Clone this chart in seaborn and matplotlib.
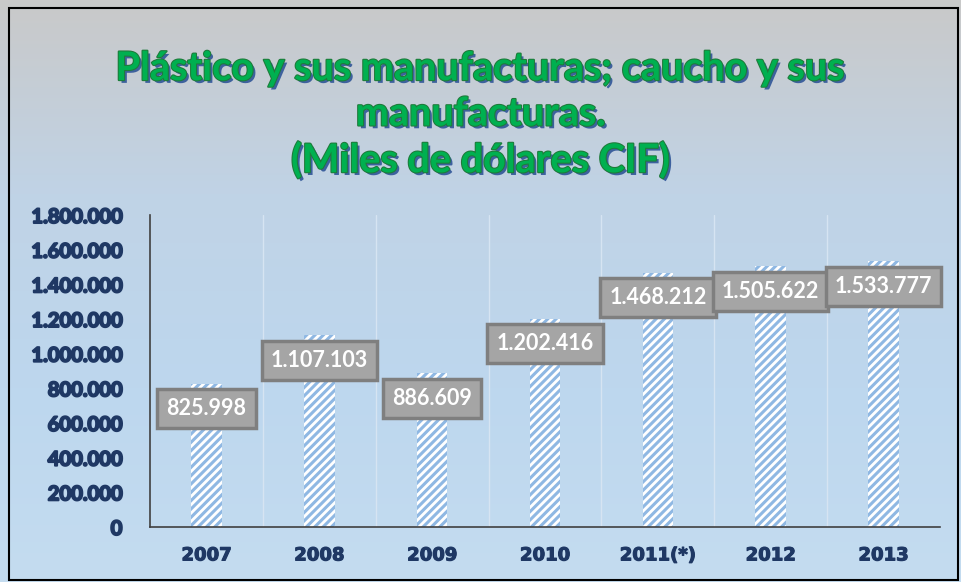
import numpy as np
import pandas as pd
import matplotlib
matplotlib.use('Agg')
import matplotlib.pyplot as plt
import matplotlib.patheffects as pe
from matplotlib.colors import LinearSegmentedColormap
import seaborn as sns

#%% Datos

anios = ['2007', '2008', '2009', '2010', '2011(*)', '2012', '2013']
valores = [825998, 1107103, 886609, 1202416, 1468212, 1505622, 1533777]
etiquetas = ['825.998', '1.107.103', '886.609', '1.202.416', '1.468.212', '1.505.622', '1.533.777']
ticks_y = [0, 200000, 400000, 600000, 800000, 1000000, 1200000, 1400000, 1600000, 1800000]

df = pd.DataFrame({'anio': anios, 'valor': valores})

titulo = 'Plástico y sus manufacturas; caucho y sus\nmanufacturas.\n(Miles de dólares CIF)'

#%% Gráfico

sns.set_theme(style='white')
plt.rcParams['font.family'] = ['Lato', 'DejaVu Sans']
plt.rcParams['hatch.linewidth'] = 2.2

fig = plt.figure(figsize=(9.62, 5.82), dpi=100)

# fondo degradado gris -> celeste
bg = fig.add_axes([0, 0, 1, 1], zorder=0)
cmap = LinearSegmentedColormap.from_list('fondo', ['#c9c9c9', '#c0d3e6', '#bdd7ee', '#c4dcf0'])
bg.imshow(np.linspace(0, 1, 256).reshape(-1, 1), aspect='auto', cmap=cmap, extent=[0, 1, 0, 1])
bg.set_xlim(0, 1)
bg.set_ylim(0, 1)
bg.axis('off')
bg.add_patch(plt.Rectangle((0.009, 0.003), 0.987, 0.984, fill=False, edgecolor='black',
                           linewidth=1.5, transform=bg.transAxes))

ax = fig.add_axes([0.156, 0.0945, 0.821, 0.536], zorder=1)
ax.set_facecolor('none')

sns.barplot(data=df, x='anio', y='valor', ax=ax, width=0.27, color='white', linewidth=0)
for p in ax.patches:
    p.set_facecolor('white')
    p.set_edgecolor('#8fb8e3')
    p.set_hatch('////')
    p.set_linewidth(0)

ax.set_ylim(0, 1800000)
ax.set_xlim(-0.5, len(anios) - 0.5)
ax.set_yticks(ticks_y)
ax.set_yticklabels(['{:,}'.format(v).replace(',', '.') for v in ticks_y])
ax.set_xlabel('')
ax.set_ylabel('')

for x in np.arange(0.5, len(anios) - 0.5, 1):
    ax.axvline(x, color='#d6e4f2', linewidth=1, zorder=0)

for s in ['top', 'right']:
    ax.spines[s].set_visible(False)
for s in ['left', 'bottom']:
    ax.spines[s].set_color('#404040')
    ax.spines[s].set_linewidth(1.2)

trazo = [pe.withStroke(linewidth=1.4, foreground='#1f3864')]
for lab in ax.get_yticklabels():
    lab.set_fontsize(14.5)
    lab.set_fontweight('bold')
    lab.set_color('#1f3864')
    lab.set_path_effects(trazo)
for lab in ax.get_xticklabels():
    lab.set_fontsize(13)
    lab.set_fontweight('bold')
    lab.set_family(['DejaVu Sans'])
    lab.set_color('#1f3864')
    lab.set_path_effects([pe.withStroke(linewidth=0.8, foreground='#1f3864')])
ax.tick_params(axis='y', length=0, pad=20)
ax.tick_params(axis='x', length=0, pad=14)

# etiquetas de datos
for i, (v, t) in enumerate(zip(valores, etiquetas)):
    ax.annotate(t, xy=(i, v), xytext=(0, -25), textcoords='offset pixels',
                ha='center', va='center', fontsize=15.5, fontweight='bold', color='white',
                bbox=dict(boxstyle='square,pad=0.42', facecolor='#a5a5a5', edgecolor='#7f7f7f', linewidth=2.5),
                zorder=5)

fig.text(0.5, 0.803, titulo, ha='center', va='center', fontsize=28.5, fontweight='bold',
         color='#00b050', linespacing=1.28,
         path_effects=[pe.withSimplePatchShadow(offset=(2, -2), shadow_rgbFace='#2f5597', alpha=0.9),
                       pe.withStroke(linewidth=1.5, foreground='#1f7a3a')])

fig.savefig('out.png', dpi=100)
